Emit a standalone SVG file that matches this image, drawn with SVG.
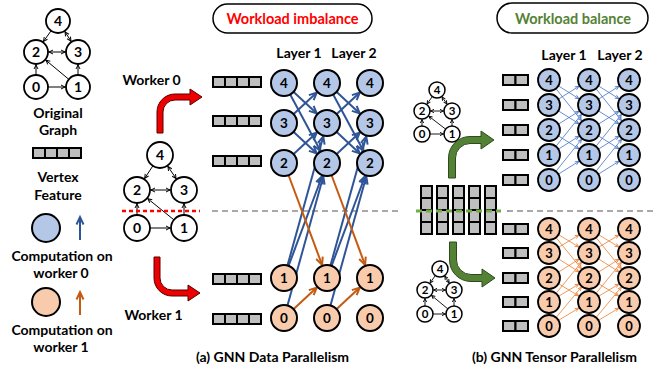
<svg xmlns="http://www.w3.org/2000/svg" xmlns:xlink="http://www.w3.org/1999/xlink" width="657" height="369" viewBox="0 0 657 369">
<style>
text{font-family:Lato,"Liberation Sans",sans-serif;font-weight:bold;fill:#000}
.c{text-anchor:middle}
.l{font-size:14px}
.n circle{stroke:#000;stroke-width:2}
.n text{font-size:13.5px;text-anchor:middle}
.s circle{stroke:#000;stroke-width:1.8}
.s text{font-size:13px;text-anchor:middle}
.g circle{fill:#fff;stroke:#000;stroke-width:1.8}
.g text{font-size:14px;text-anchor:middle}
.gs circle{fill:#fff;stroke:#000;stroke-width:1.5}
.gs text{font-size:11.5px;text-anchor:middle}
.b circle{fill:#b4c7e7}
.o circle{fill:#f8cbad}
.fv rect{fill:#bfbfbf;stroke:#000;stroke-width:2}
.eb{stroke:#2f5597;stroke-width:2;fill:none;marker-end:url(#ab)}
.eo{stroke:#c55a11;stroke-width:2;fill:none;marker-end:url(#ao)}
.tb{stroke:#4472c4;stroke-width:0.8;fill:none;marker-end:url(#sb)}
.to{stroke:#ed7d31;stroke-width:0.8;fill:none;marker-end:url(#so)}
.k12{stroke:#000;stroke-width:1;marker-end:url(#k12)}
.k12d{stroke:#000;stroke-width:1;marker-end:url(#k12);marker-start:url(#k12)}
.k13{stroke:#000;stroke-width:1;marker-end:url(#k13)}
.k13d{stroke:#000;stroke-width:1;marker-end:url(#k13);marker-start:url(#k13)}
.k8{stroke:#000;stroke-width:0.9;marker-end:url(#k8)}
.k8d{stroke:#000;stroke-width:0.9;marker-end:url(#k8);marker-start:url(#k8)}
</style>
<defs>
<marker id="ab" markerUnits="userSpaceOnUse" markerWidth="10" markerHeight="10" refX="22" refY="4" orient="auto" overflow="visible"><path d="M0.5,0.5 L8,4 L0.5,7.5" fill="none" stroke="#2f5597" stroke-width="2"/></marker>
<marker id="ao" markerUnits="userSpaceOnUse" markerWidth="10" markerHeight="10" refX="22" refY="4" orient="auto" overflow="visible"><path d="M0.5,0.5 L8,4 L0.5,7.5" fill="none" stroke="#c55a11" stroke-width="2"/></marker>
<marker id="ab0" markerUnits="userSpaceOnUse" markerWidth="10" markerHeight="10" refX="8" refY="4" orient="auto" overflow="visible"><path d="M0.5,0.5 L8,4 L0.5,7.5" fill="none" stroke="#2f5597" stroke-width="2"/></marker>
<marker id="ao0" markerUnits="userSpaceOnUse" markerWidth="10" markerHeight="10" refX="8" refY="4" orient="auto" overflow="visible"><path d="M0.5,0.5 L8,4 L0.5,7.5" fill="none" stroke="#c55a11" stroke-width="2"/></marker>
<marker id="sb" markerUnits="userSpaceOnUse" markerWidth="5" markerHeight="5" refX="16" refY="2" orient="auto" overflow="visible"><path d="M0.3,0.3 L4,2 L0.3,3.7" fill="none" stroke="#4472c4" stroke-width="0.8"/></marker>
<marker id="so" markerUnits="userSpaceOnUse" markerWidth="5" markerHeight="5" refX="16" refY="2" orient="auto" overflow="visible"><path d="M0.3,0.3 L4,2 L0.3,3.7" fill="none" stroke="#ed7d31" stroke-width="0.8"/></marker>
<marker id="k12" markerUnits="userSpaceOnUse" markerWidth="5" markerHeight="5" refX="17.5" refY="2.5" orient="auto-start-reverse" overflow="visible"><path d="M0.5,0.5 L4.5,2.5 L0.5,4.5" fill="none" stroke="#000" stroke-width="1"/></marker>
<marker id="k13" markerUnits="userSpaceOnUse" markerWidth="5" markerHeight="5" refX="18.5" refY="2.5" orient="auto-start-reverse" overflow="visible"><path d="M0.5,0.5 L4.5,2.5 L0.5,4.5" fill="none" stroke="#000" stroke-width="1"/></marker>
<marker id="k8" markerUnits="userSpaceOnUse" markerWidth="5" markerHeight="5" refX="12.3" refY="2" orient="auto-start-reverse" overflow="visible"><path d="M0.3,0.3 L3.5,2 L0.3,3.7" fill="none" stroke="#000" stroke-width="0.9"/></marker>
<g id="f4" class="fv"><rect x="0" y="0" width="12" height="10"/><rect x="12" y="0" width="12" height="10"/><rect x="24" y="0" width="12" height="10"/><rect x="36" y="0" width="12" height="10"/></g>
<g id="f2" class="fv"><rect x="0" y="0" width="12.5" height="10"/><rect x="12.5" y="0" width="12.5" height="10"/></g>
<g id="fc" class="fv"><rect x="0" y="0" width="11" height="12"/><rect x="0" y="12" width="11" height="12"/><rect x="0" y="24" width="11" height="12"/><rect x="0" y="36" width="11" height="12"/></g>
</defs>
<rect width="657" height="369" fill="#fff"/>

<!-- legend -->
<g id="legend">
<g id="lg-edges">
<line class="k12" x1="58" y1="21" x2="36" y2="52"/>
<line class="k12d" x1="58" y1="21" x2="78" y2="52"/>
<line class="k12d" x1="36" y1="52" x2="78" y2="52"/>
<line class="k12" x1="36" y1="87" x2="36" y2="52"/>
<line class="k12" x1="78" y1="87" x2="36" y2="52"/>
<line class="k12" x1="78" y1="87" x2="78" y2="52"/>
<line class="k12" x1="36" y1="87" x2="78" y2="87"/>
</g>
<g id="lg-n4" class="g"><circle cx="58" cy="21" r="12"/><text x="58" y="26">4</text></g>
<g id="lg-n2" class="g"><circle cx="36" cy="52" r="12"/><text x="36" y="57">2</text></g>
<g id="lg-n3" class="g"><circle cx="78" cy="52" r="12"/><text x="78" y="57">3</text></g>
<g id="lg-n0" class="g"><circle cx="36" cy="87" r="12"/><text x="36" y="92">0</text></g>
<g id="lg-n1" class="g"><circle cx="78" cy="87" r="12"/><text x="78" y="92">1</text></g>
<text class="c l" x="58" y="118">Original</text>
<text class="c l" x="58" y="135">Graph</text>
<use href="#f4" x="33" y="148"/>
<text class="c l" x="58" y="182">Vertex</text>
<text class="c l" x="58" y="200">Feature</text>
<g class="n b"><circle cx="46" cy="228" r="14"/></g>
<line x1="80" y1="240" x2="80" y2="217" stroke="#2f5597" stroke-width="2" marker-end="url(#ab0)"/>
<text class="c l" x="62" y="261">Computation on</text>
<text class="c l" x="61" y="278">worker 0</text>
<g class="n o"><circle cx="46" cy="302" r="14"/></g>
<line x1="80" y1="315" x2="80" y2="292" stroke="#c55a11" stroke-width="2" marker-end="url(#ao0)"/>
<text class="c l" x="62" y="335">Computation on</text>
<text class="c l" x="61" y="352">worker 1</text>
</g>

<!-- partition lines -->
<line x1="212" y1="211" x2="400" y2="211" stroke="#555" stroke-width="1.2" stroke-dasharray="6,4"/>
<line x1="507" y1="211" x2="656" y2="211" stroke="#555" stroke-width="1.2" stroke-dasharray="6,4"/>

<!-- middle graph -->
<g id="mid-graph">
<g id="mg-edges">
<line class="k13" x1="160" y1="155" x2="137" y2="190"/>
<line class="k13d" x1="160" y1="155" x2="184" y2="190"/>
<line class="k13d" x1="137" y1="190" x2="184" y2="190"/>
<line class="k13" x1="137" y1="228" x2="137" y2="190"/>
<line class="k13" x1="184" y1="228" x2="137" y2="190"/>
<line class="k13" x1="184" y1="228" x2="184" y2="190"/>
<line class="k13" x1="137" y1="228" x2="184" y2="228"/>
</g>
<g id="mg-n4" class="g"><circle cx="160" cy="155" r="13"/><text x="160" y="160">4</text></g>
<g id="mg-n2" class="g"><circle cx="137" cy="190" r="13"/><text x="137" y="195">2</text></g>
<g id="mg-n3" class="g"><circle cx="184" cy="190" r="13"/><text x="184" y="195">3</text></g>
<g id="mg-n0" class="g"><circle cx="137" cy="228" r="13"/><text x="137" y="233">0</text></g>
<g id="mg-n1" class="g"><circle cx="184" cy="228" r="13"/><text x="184" y="233">1</text></g>
</g>
<line x1="122" y1="211" x2="200" y2="211" stroke="#ff0000" stroke-width="2.5" stroke-dasharray="4,3"/>

<!-- red arrows -->
<path id="red-up" d="M157,133 L157,112 A18,18 0 0 1 175,94 L190,94 L190,89 L202,97 L190,105 L190,100 L175,100 A12,12 0 0 0 163,112 L163,133 Z" fill="#ee0000" stroke="#500" stroke-width="1"/>
<path id="red-down" d="M154,257 L154,278 A18,18 0 0 0 172,296 L188,296 L188,301 L200,293 L188,285 L188,290 L172,290 A12,12 0 0 1 160,278 L160,257 Z" fill="#ee0000" stroke="#500" stroke-width="1"/>
<text class="c l" x="151.5" y="85">Worker 0</text>
<text class="c l" x="153.5" y="320">Worker 1</text>

<!-- data parallelism -->
<g id="imbalance-box">
<rect x="213" y="4" width="159" height="29" rx="14.5" fill="#fff" stroke="#000" stroke-width="1.5"/>
<text class="c" x="292.5" y="24" font-size="14.5" style="fill:#ff0000">Workload imbalance</text>
</g>
<text class="c l" x="299" y="58">Layer 1</text>
<text class="c l" x="354" y="58">Layer 2</text>
<use href="#f4" x="213" y="77"/>
<use href="#f4" x="213" y="116"/>
<use href="#f4" x="213" y="156"/>
<use href="#f4" x="213" y="274"/>
<use href="#f4" x="213" y="314"/>

<g id="dp-edges">
<line class="eb" x1="284" y1="83" x2="327" y2="123"/>
<line class="eb" x1="284" y1="83" x2="327" y2="163"/>
<line class="eb" x1="284" y1="123" x2="327" y2="83"/>
<line class="eb" x1="284" y1="123" x2="327" y2="163"/>
<line class="eb" x1="284" y1="163" x2="327" y2="123"/>
<line class="eb" x1="284" y1="278" x2="327" y2="123"/>
<line class="eb" x1="284" y1="278" x2="327" y2="163"/>
<line class="eb" x1="284" y1="318" x2="327" y2="163"/>
<line class="eo" x1="284" y1="163" x2="327" y2="278"/>
<line class="eo" x1="284" y1="318" x2="327" y2="278"/>
<line class="eb" x1="327" y1="83" x2="370" y2="123"/>
<line class="eb" x1="327" y1="83" x2="370" y2="163"/>
<line class="eb" x1="327" y1="123" x2="370" y2="83"/>
<line class="eb" x1="327" y1="123" x2="370" y2="163"/>
<line class="eb" x1="327" y1="163" x2="370" y2="123"/>
<line class="eb" x1="327" y1="278" x2="370" y2="123"/>
<line class="eb" x1="327" y1="278" x2="370" y2="163"/>
<line class="eb" x1="327" y1="318" x2="370" y2="163"/>
<line class="eo" x1="327" y1="163" x2="370" y2="278"/>
<line class="eo" x1="327" y1="318" x2="370" y2="278"/>
</g>

<g id="dp-L0-4" class="n b"><circle cx="284" cy="83" r="13"/><text x="284" y="88">4</text></g>
<g id="dp-L0-3" class="n b"><circle cx="284" cy="123" r="13"/><text x="284" y="128">3</text></g>
<g id="dp-L0-2" class="n b"><circle cx="284" cy="163" r="13"/><text x="284" y="168">2</text></g>
<g id="dp-L0-1" class="n o"><circle cx="284" cy="278" r="13"/><text x="284" y="283">1</text></g>
<g id="dp-L0-0" class="n o"><circle cx="284" cy="318" r="13"/><text x="284" y="323">0</text></g>
<g id="dp-L1-4" class="n b"><circle cx="327" cy="83" r="13"/><text x="327" y="88">4</text></g>
<g id="dp-L1-3" class="n b"><circle cx="327" cy="123" r="13"/><text x="327" y="128">3</text></g>
<g id="dp-L1-2" class="n b"><circle cx="327" cy="163" r="13"/><text x="327" y="168">2</text></g>
<g id="dp-L1-1" class="n o"><circle cx="327" cy="278" r="13"/><text x="327" y="283">1</text></g>
<g id="dp-L1-0" class="n o"><circle cx="327" cy="318" r="13"/><text x="327" y="323">0</text></g>
<g id="dp-L2-4" class="n b"><circle cx="370" cy="83" r="13"/><text x="370" y="88">4</text></g>
<g id="dp-L2-3" class="n b"><circle cx="370" cy="123" r="13"/><text x="370" y="128">3</text></g>
<g id="dp-L2-2" class="n b"><circle cx="370" cy="163" r="13"/><text x="370" y="168">2</text></g>
<g id="dp-L2-1" class="n o"><circle cx="370" cy="278" r="13"/><text x="370" y="283">1</text></g>
<g id="dp-L2-0" class="n o"><circle cx="370" cy="318" r="13"/><text x="370" y="323">0</text></g>

<text class="c" x="272.5" y="362" font-size="14">(a) GNN Data Parallelism</text>

<!-- tensor parallelism -->
<g id="balance-box">
<rect x="497" y="3" width="151" height="30" rx="15" fill="#fff" stroke="#000" stroke-width="1.5"/>
<text class="c" x="573" y="23.5" font-size="14.5" style="fill:#548235">Workload balance</text>
</g>
<text class="c l" x="564" y="60">Layer 1</text>
<text class="c l" x="620" y="60">Layer 2</text>

<g id="tp-graph-top">
<g>
<line class="k8" x1="437" y1="90" x2="422" y2="111"/>
<line class="k8d" x1="437" y1="90" x2="452" y2="111"/>
<line class="k8d" x1="422" y1="111" x2="452" y2="111"/>
<line class="k8" x1="422" y1="134" x2="422" y2="111"/>
<line class="k8" x1="452" y1="134" x2="422" y2="111"/>
<line class="k8" x1="452" y1="134" x2="452" y2="111"/>
<line class="k8" x1="422" y1="134" x2="452" y2="134"/>
</g>
<g id="tg1-n4" class="gs"><circle cx="437" cy="90" r="8"/><text x="437" y="94">4</text></g>
<g id="tg1-n2" class="gs"><circle cx="422" cy="111" r="8"/><text x="422" y="115">2</text></g>
<g id="tg1-n3" class="gs"><circle cx="452" cy="111" r="8"/><text x="452" y="115">3</text></g>
<g id="tg1-n0" class="gs"><circle cx="422" cy="134" r="8"/><text x="422" y="138">0</text></g>
<g id="tg1-n1" class="gs"><circle cx="452" cy="134" r="8"/><text x="452" y="138">1</text></g>
</g>

<g id="tp-graph-bottom">
<g>
<line class="k8" x1="440" y1="269" x2="425" y2="290"/>
<line class="k8d" x1="440" y1="269" x2="454" y2="290"/>
<line class="k8d" x1="425" y1="290" x2="454" y2="290"/>
<line class="k8" x1="425" y1="314" x2="425" y2="290"/>
<line class="k8" x1="454" y1="314" x2="425" y2="290"/>
<line class="k8" x1="454" y1="314" x2="454" y2="290"/>
<line class="k8" x1="425" y1="314" x2="454" y2="314"/>
</g>
<g id="tg2-n4" class="gs"><circle cx="440" cy="269" r="8"/><text x="440" y="273">4</text></g>
<g id="tg2-n2" class="gs"><circle cx="425" cy="290" r="8"/><text x="425" y="294">2</text></g>
<g id="tg2-n3" class="gs"><circle cx="454" cy="290" r="8"/><text x="454" y="294">3</text></g>
<g id="tg2-n0" class="gs"><circle cx="425" cy="314" r="8"/><text x="425" y="318">0</text></g>
<g id="tg2-n1" class="gs"><circle cx="454" cy="314" r="8"/><text x="454" y="318">1</text></g>
</g>

<g id="feature-matrix">
<use href="#fc" x="421" y="186"/>
<use href="#fc" x="437" y="186"/>
<use href="#fc" x="453" y="186"/>
<use href="#fc" x="469" y="186"/>
<use href="#fc" x="485" y="186"/>
</g>
<line x1="416" y1="211" x2="501" y2="211" stroke="#70ad47" stroke-width="3" stroke-dasharray="6,4"/>

<path id="green-up" d="M448.5,178 L448.5,158 A21.5,21.5 0 0 1 470,136.5 L481,136.5 L481,131 L494,140 L481,149 L481,143.5 L470,143.5 A14.5,14.5 0 0 0 455.5,158 L455.5,178 Z" fill="#548235" stroke="#2e4a1e" stroke-width="1"/>
<path id="green-down" d="M449.5,242 L449.5,260 A21.5,21.5 0 0 0 471,281.5 L482,281.5 L482,287 L495,278 L482,269 L482,274.5 L471,274.5 A14.5,14.5 0 0 1 456.5,260 L456.5,242 Z" fill="#548235" stroke="#2e4a1e" stroke-width="1"/>

<use href="#f2" x="503" y="75"/>
<use href="#f2" x="503" y="100"/>
<use href="#f2" x="503" y="125"/>
<use href="#f2" x="503" y="150"/>
<use href="#f2" x="503" y="175"/>
<use href="#f2" x="503" y="224"/>
<use href="#f2" x="503" y="248"/>
<use href="#f2" x="503" y="273"/>
<use href="#f2" x="503" y="297"/>
<use href="#f2" x="503" y="321"/>

<g id="tp-edges">
<line class="tb" x1="549" y1="80" x2="589" y2="105"/>
<line class="tb" x1="549" y1="80" x2="589" y2="130"/>
<line class="tb" x1="549" y1="105" x2="589" y2="80"/>
<line class="tb" x1="549" y1="105" x2="589" y2="130"/>
<line class="tb" x1="549" y1="130" x2="589" y2="105"/>
<line class="tb" x1="549" y1="130" x2="589" y2="155"/>
<line class="tb" x1="549" y1="155" x2="589" y2="105"/>
<line class="tb" x1="549" y1="155" x2="589" y2="130"/>
<line class="tb" x1="549" y1="180" x2="589" y2="130"/>
<line class="tb" x1="549" y1="180" x2="589" y2="155"/>
<line class="tb" x1="589" y1="80" x2="629" y2="105"/>
<line class="tb" x1="589" y1="80" x2="629" y2="130"/>
<line class="tb" x1="589" y1="105" x2="629" y2="80"/>
<line class="tb" x1="589" y1="105" x2="629" y2="130"/>
<line class="tb" x1="589" y1="130" x2="629" y2="105"/>
<line class="tb" x1="589" y1="130" x2="629" y2="155"/>
<line class="tb" x1="589" y1="155" x2="629" y2="105"/>
<line class="tb" x1="589" y1="155" x2="629" y2="130"/>
<line class="tb" x1="589" y1="180" x2="629" y2="130"/>
<line class="tb" x1="589" y1="180" x2="629" y2="155"/>
<line class="to" x1="549" y1="229" x2="589" y2="253"/>
<line class="to" x1="549" y1="229" x2="589" y2="278"/>
<line class="to" x1="549" y1="253" x2="589" y2="229"/>
<line class="to" x1="549" y1="253" x2="589" y2="278"/>
<line class="to" x1="549" y1="278" x2="589" y2="253"/>
<line class="to" x1="549" y1="278" x2="589" y2="302"/>
<line class="to" x1="549" y1="302" x2="589" y2="253"/>
<line class="to" x1="549" y1="302" x2="589" y2="278"/>
<line class="to" x1="549" y1="326" x2="589" y2="278"/>
<line class="to" x1="549" y1="326" x2="589" y2="302"/>
<line class="to" x1="589" y1="229" x2="629" y2="253"/>
<line class="to" x1="589" y1="229" x2="629" y2="278"/>
<line class="to" x1="589" y1="253" x2="629" y2="229"/>
<line class="to" x1="589" y1="253" x2="629" y2="278"/>
<line class="to" x1="589" y1="278" x2="629" y2="253"/>
<line class="to" x1="589" y1="278" x2="629" y2="302"/>
<line class="to" x1="589" y1="302" x2="629" y2="253"/>
<line class="to" x1="589" y1="302" x2="629" y2="278"/>
<line class="to" x1="589" y1="326" x2="629" y2="278"/>
<line class="to" x1="589" y1="326" x2="629" y2="302"/>
</g>

<g id="tp-top-L0-4" class="s b"><circle cx="549" cy="80" r="11"/><text x="549" y="84.7">4</text></g>
<g id="tp-top-L0-3" class="s b"><circle cx="549" cy="105" r="11"/><text x="549" y="109.7">3</text></g>
<g id="tp-top-L0-2" class="s b"><circle cx="549" cy="130" r="11"/><text x="549" y="134.7">2</text></g>
<g id="tp-top-L0-1" class="s b"><circle cx="549" cy="155" r="11"/><text x="549" y="159.7">1</text></g>
<g id="tp-top-L0-0" class="s b"><circle cx="549" cy="180" r="11"/><text x="549" y="184.7">0</text></g>
<g id="tp-top-L1-4" class="s b"><circle cx="589" cy="80" r="11"/><text x="589" y="84.7">4</text></g>
<g id="tp-top-L1-3" class="s b"><circle cx="589" cy="105" r="11"/><text x="589" y="109.7">3</text></g>
<g id="tp-top-L1-2" class="s b"><circle cx="589" cy="130" r="11"/><text x="589" y="134.7">2</text></g>
<g id="tp-top-L1-1" class="s b"><circle cx="589" cy="155" r="11"/><text x="589" y="159.7">1</text></g>
<g id="tp-top-L1-0" class="s b"><circle cx="589" cy="180" r="11"/><text x="589" y="184.7">0</text></g>
<g id="tp-top-L2-4" class="s b"><circle cx="629" cy="80" r="11"/><text x="629" y="84.7">4</text></g>
<g id="tp-top-L2-3" class="s b"><circle cx="629" cy="105" r="11"/><text x="629" y="109.7">3</text></g>
<g id="tp-top-L2-2" class="s b"><circle cx="629" cy="130" r="11"/><text x="629" y="134.7">2</text></g>
<g id="tp-top-L2-1" class="s b"><circle cx="629" cy="155" r="11"/><text x="629" y="159.7">1</text></g>
<g id="tp-top-L2-0" class="s b"><circle cx="629" cy="180" r="11"/><text x="629" y="184.7">0</text></g>

<g id="tp-bot-L0-4" class="s o"><circle cx="549" cy="229" r="11"/><text x="549" y="233.7">4</text></g>
<g id="tp-bot-L0-3" class="s o"><circle cx="549" cy="253" r="11"/><text x="549" y="257.7">3</text></g>
<g id="tp-bot-L0-2" class="s o"><circle cx="549" cy="278" r="11"/><text x="549" y="282.7">2</text></g>
<g id="tp-bot-L0-1" class="s o"><circle cx="549" cy="302" r="11"/><text x="549" y="306.7">1</text></g>
<g id="tp-bot-L0-0" class="s o"><circle cx="549" cy="326" r="11"/><text x="549" y="330.7">0</text></g>
<g id="tp-bot-L1-4" class="s o"><circle cx="589" cy="229" r="11"/><text x="589" y="233.7">4</text></g>
<g id="tp-bot-L1-3" class="s o"><circle cx="589" cy="253" r="11"/><text x="589" y="257.7">3</text></g>
<g id="tp-bot-L1-2" class="s o"><circle cx="589" cy="278" r="11"/><text x="589" y="282.7">2</text></g>
<g id="tp-bot-L1-1" class="s o"><circle cx="589" cy="302" r="11"/><text x="589" y="306.7">1</text></g>
<g id="tp-bot-L1-0" class="s o"><circle cx="589" cy="326" r="11"/><text x="589" y="330.7">0</text></g>
<g id="tp-bot-L2-4" class="s o"><circle cx="629" cy="229" r="11"/><text x="629" y="233.7">4</text></g>
<g id="tp-bot-L2-3" class="s o"><circle cx="629" cy="253" r="11"/><text x="629" y="257.7">3</text></g>
<g id="tp-bot-L2-2" class="s o"><circle cx="629" cy="278" r="11"/><text x="629" y="282.7">2</text></g>
<g id="tp-bot-L2-1" class="s o"><circle cx="629" cy="302" r="11"/><text x="629" y="306.7">1</text></g>
<g id="tp-bot-L2-0" class="s o"><circle cx="629" cy="326" r="11"/><text x="629" y="330.7">0</text></g>

<text class="c" x="554.5" y="362" font-size="14">(b) GNN Tensor Parallelism</text>
</svg>
